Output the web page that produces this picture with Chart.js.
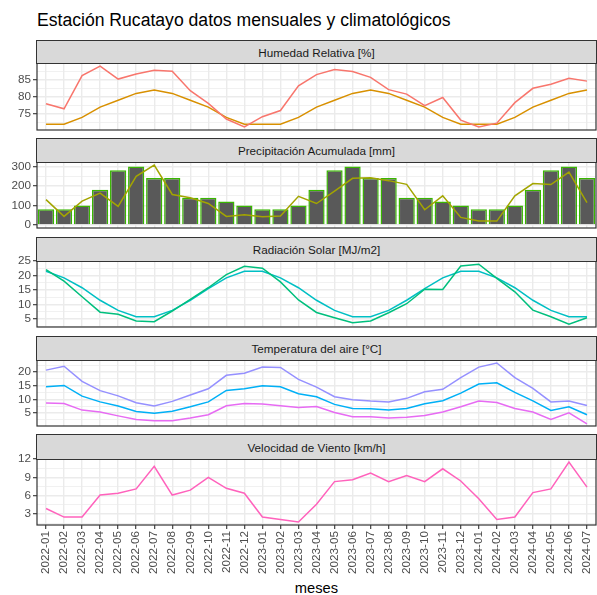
<!DOCTYPE html>
<html>
<head>
<meta charset="utf-8">
<script src="https://cdn.jsdelivr.net/npm/chart.js@4.4.1/dist/chart.umd.min.js"></script>
<style>
  body { margin: 0; background: #ffffff; font-family: "Liberation Sans", Arial, sans-serif; }
  #page { position: relative; width: 597px; height: 595px; overflow: hidden; background: #ffffff; }
  #title { position: absolute; left: 37px; top: 12px; font-size: 17.6px; line-height: 1; color: #000000; white-space: nowrap; }
  #xtitle { position: absolute; left: 37px; width: 559px; top: 581px; font-size: 14.7px; line-height: 1; text-align: center; color: #000000; }
  .strip { position: absolute; left: 36px; width: 561px; background: #D9D9D9; border: 1px solid #333333;
           box-sizing: border-box; display: flex; align-items: center; justify-content: center;
           font-size: 11.7px; color: #1A1A1A; }
  canvas { position: absolute; left: 0; }
</style>
</head>
<body>
<div id="page">
  <div id="title">Estación Rucatayo datos mensuales y climatológicos</div>
  <div id="xtitle">meses</div>
</div>
<script>
// meses del eje x
const meses = ["2022-01", "2022-02", "2022-03", "2022-04", "2022-05", "2022-06", "2022-07", "2022-08",
  "2022-09", "2022-10", "2022-11", "2022-12", "2023-01", "2023-02", "2023-03", "2023-04", "2023-05",
  "2023-06", "2023-07", "2023-08", "2023-09", "2023-10", "2023-11", "2023-12", "2024-01", "2024-02",
  "2024-03", "2024-04", "2024-05", "2024-06", "2024-07"];

// humedad relativa [%]
const humedadMensual = [78.0, 76.5, 86.2, 89.0, 85.2, 86.7, 87.8, 87.5, 81.8, 78.1, 73.5, 71.2, 74.2, 76.0,
  83.2, 86.5, 88.0, 87.4, 85.7, 82.1, 80.8, 77.4, 79.8, 73.2, 71.2, 72.3, 78.3, 82.5, 83.7, 85.4, 84.6];
const humedadClima = [72, 72, 74, 77, 79, 81, 82, 81, 79, 77, 74, 72, 72, 72, 74, 77, 79, 81, 82, 81, 79,
  77, 74, 72, 72, 72, 74, 77, 79, 81, 82];

// precipitacion acumulada [mm]
const precipMensual = [130, 44, 122, 163, 95, 249, 307, 156, 139, 110, 44, 53, 42, 46, 147, 110, 173, 239,
  242, 227, 208, 78, 149, 39, 20, 20, 149, 212, 207, 271, 115];
const precipClima = [80, 80, 100, 180, 280, 300, 240, 240, 140, 140, 120, 100, 80, 80, 100, 180, 280, 300,
  240, 240, 140, 140, 120, 100, 80, 80, 100, 180, 280, 300, 240];

// radiacion solar [MJ/m2]
const radiacionMensual = [22.0, 18.1, 12.7, 7.4, 6.7, 4.4, 4.1, 7.8, 11.8, 15.8, 20.3, 23.2, 22.5, 17.8,
  11.6, 7.3, 5.5, 3.8, 4.4, 7.2, 10.3, 15.3, 15.2, 23.3, 23.9, 19.0, 14.4, 8.1, 5.8, 3.3, 5.5];
const radiacionClima = [21.5, 19.2, 15.8, 11.5, 8.0, 5.8, 5.8, 8.0, 11.5, 15.5, 19.2, 21.5, 21.5, 19.2,
  15.8, 11.5, 8.0, 5.8, 5.8, 8.0, 11.5, 15.5, 19.2, 21.5, 21.5, 19.2, 15.8, 11.5, 8.0, 5.8, 5.8];

// temperatura del aire [°C]
const tempMaxima = [20.7, 22.1, 16.6, 13.2, 11.3, 8.8, 7.6, 9.3, 11.6, 13.9, 18.8, 19.6, 21.8, 21.7, 17.3,
  14.5, 11.0, 9.9, 9.4, 9.1, 10.4, 12.8, 13.7, 18.0, 21.8, 23.3, 18.0, 14.0, 9.1, 9.4, 7.8];
const tempMedia = [14.6, 15.1, 11.2, 9.1, 7.6, 5.6, 5.0, 5.7, 7.3, 9.1, 13.3, 13.9, 15.0, 14.6, 12.1, 11.0,
  8.2, 6.7, 6.6, 6.1, 6.7, 8.4, 9.5, 12.3, 15.6, 16.1, 12.6, 9.5, 6.0, 7.3, 4.4];
const tempMinima = [8.7, 8.5, 6.1, 5.4, 4.0, 2.7, 2.2, 2.2, 3.2, 4.4, 7.7, 8.5, 8.3, 7.7, 7.1, 7.4, 5.2, 3.7,
  3.7, 3.2, 3.5, 4.1, 5.4, 7.3, 9.4, 8.9, 6.7, 5.4, 2.7, 5.1, 1.1];

// velocidad de viento [km/h]
const viento = [3.9, 2.5, 2.5, 6.1, 6.4, 7.1, 10.8, 6.1, 6.9, 9.0, 7.2, 6.4, 2.5, 2.1, 1.7, 4.6, 8.3, 8.6,
  9.7, 8.3, 9.3, 8.3, 10.4, 8.4, 5.5, 2.1, 2.5, 6.5, 7.1, 11.5, 7.4];

// etiquetas del eje y (mayores) y lineas menores
const humedadTicks = [75, 80, 85];
const humedadMenores = [72.5, 77.5, 82.5, 87.5];
const precipTicks = [0, 100, 200, 300];
const precipMenores = [50, 150, 250];
const radiacionTicks = [5, 10, 15, 20, 25];
const radiacionMenores = [2.5, 7.5, 12.5, 17.5, 22.5];
const tempTicks = [5, 10, 15, 20];
const tempMenores = [2.5, 7.5, 12.5, 17.5, 22.5];
const vientoTicks = [3, 6, 9, 12];
const vientoMenores = [1.5, 4.5, 7.5, 10.5];

// posicion vertical de cada faceta
const stripTops = [40, 138, 237, 336, 434];
const panelTops = [63, 162, 261, 360, 459];
const panelBottoms = [130, 228, 327, 426, 525];

Chart.defaults.font.family = '"Liberation Sans", Arial, sans-serif';

const panelBorder = {
  id: "panelBorder",
  afterDraw(chart) {
    let a = chart.chartArea;
    let ctx = chart.ctx;
    ctx.save();
    ctx.strokeStyle = "#333333";
    ctx.lineWidth = 1.2;
    ctx.strokeRect(a.left, a.top, a.right - a.left, a.bottom - a.top);
    ctx.restore();
  }
};

function lineSet(values, color) {
  return {
    type: "line",
    data: values,
    borderColor: color,
    backgroundColor: color,
    borderWidth: 1.5,
    pointRadius: 0,
    tension: 0,
    order: 0
  };
}

function drawPanel(k, title, datasets, yMin, yMax, majorTicks, minorTicks) {
  let page = document.getElementById("page");
  let isLast = k === 4;
  let top = panelTops[k] - 8;
  let height = isLast ? 595 - top : panelBottoms[k] - panelTops[k] + 16;

  let canvas = document.createElement("canvas");
  canvas.width = 597;
  canvas.height = height;
  canvas.style.top = top + "px";
  page.appendChild(canvas);

  let strip = document.createElement("div");
  strip.classList.add("strip");
  strip.style.top = stripTops[k] + "px";
  strip.style.height = (panelTops[k] - stripTops[k] + 1) + "px";
  strip.textContent = title;
  page.appendChild(strip);

  let allTicks = majorTicks.concat(minorTicks).sort((a, b) => a - b);
  let isMajor = v => majorTicks.includes(v);

  new Chart(canvas.getContext("2d"), {
    type: "line",
    data: { labels: meses, datasets: datasets },
    options: {
      responsive: false,
      animation: false,
      layout: { padding: { top: 8, bottom: isLast ? 0 : 8, left: 0, right: 1 } },
      plugins: { legend: { display: false }, tooltip: { enabled: false } },
      scales: {
        x: {
          type: "category",
          offset: true,
          border: { display: false },
          grid: { offset: false, color: "#EBEBEB", lineWidth: 1.4, drawTicks: isLast, tickLength: 4, tickColor: "#333333", tickWidth: 1.1 },
          ticks: { display: isLast, autoSkip: false, maxRotation: 90, minRotation: 90, color: "#4D4D4D", font: { size: 11.7 }, padding: 2 },
          afterFit: s => {
            s.height = isLast ? 70 : 0;
            s.paddingLeft = 0;
            s.paddingRight = 0;
          }
        },
        y: {
          min: yMin,
          max: yMax,
          border: { display: false },
          afterBuildTicks: s => {
            s.ticks = allTicks.map(v => ({ value: v }));
          },
          grid: {
            color: "#EBEBEB",
            lineWidth: c => (c.tick && isMajor(c.tick.value) ? 1.4 : 0.7),
            tickLength: 4,
            tickWidth: 1.1,
            tickColor: c => (c.tick && isMajor(c.tick.value) ? "#333333" : "rgba(0,0,0,0)")
          },
          ticks: {
            autoSkip: false,
            color: "#4D4D4D",
            font: { size: 11.7 },
            padding: 2,
            callback: v => (isMajor(v) ? String(v) : "")
          },
          afterFit: s => {
            s.width = 37;
            s.paddingTop = 0;
            s.paddingBottom = 0;
          }
        }
      }
    },
    plugins: [panelBorder]
  });
}

drawPanel(0, "Humedad Relativa [%]",
  [lineSet(humedadMensual, "#F8766D"), lineSet(humedadClima, "#D89000")],
  70.3, 89.9, humedadTicks, humedadMenores);

drawPanel(1, "Precipitación Acumulada [mm]",
  [lineSet(precipMensual, "#A3A500"),
   { type: "bar", data: precipClima, backgroundColor: "#595959", borderColor: "#39B600", borderWidth: 1.5,
     barPercentage: 0.9, categoryPercentage: 1.0, order: 1 }],
  -15.4, 322.4, precipTicks, precipMenores);

drawPanel(2, "Radiación Solar [MJ/m2]",
  [lineSet(radiacionMensual, "#00BF7D"), lineSet(radiacionClima, "#00BFC4")],
  2.3, 25.0, radiacionTicks, radiacionMenores);

drawPanel(3, "Temperatura del aire [°C]",
  [lineSet(tempMaxima, "#9590FF"), lineSet(tempMedia, "#00B0F6"), lineSet(tempMinima, "#E76BF3")],
  0.3, 24.4, tempTicks, tempMenores);

drawPanel(4, "Velocidad de Viento [km/h]",
  [lineSet(viento, "#FF62BC")],
  1.2, 12.0, vientoTicks, vientoMenores);
</script>
</body>
</html>
